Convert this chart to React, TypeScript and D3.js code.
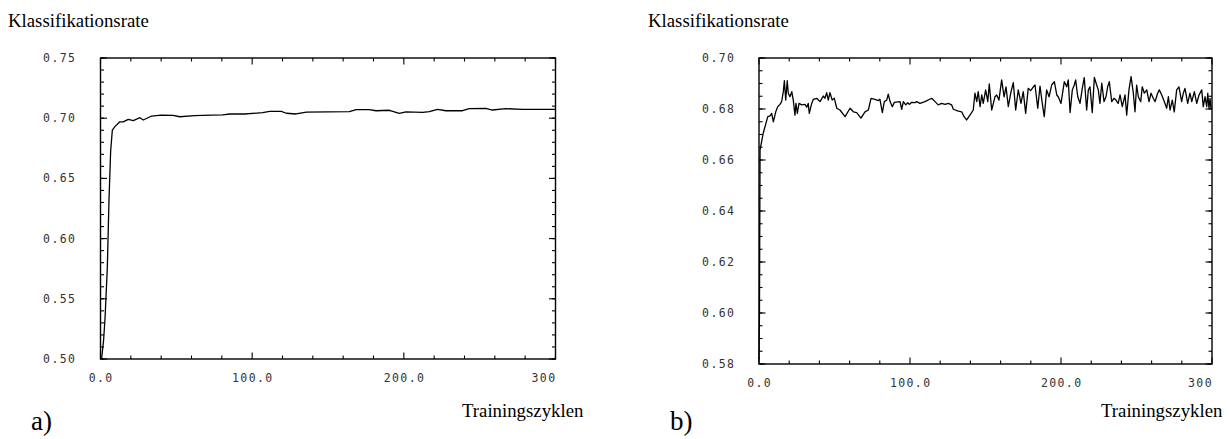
import React from "react";
import * as d3 from "d3";

// ---------- data ----------
const xTickValuesMajor = [0, 100, 200, 300];
const xTickLabels = ["0.0", "100.0", "200.0", "300"];
const xMinorStep = 20;

const yTicksA = [0.5, 0.55, 0.6, 0.65, 0.7, 0.75];
const yTickLabelsA = ["0.50", "0.55", "0.60", "0.65", "0.70", "0.75"];
const yTicksB = [0.58, 0.6, 0.62, 0.64, 0.66, 0.68, 0.7];
const yTickLabelsB = ["0.58", "0.60", "0.62", "0.64", "0.66", "0.68", "0.70"];

const yLabel = "Klassifikationsrate";
const xLabel = "Trainingszyklen";
const panelLabels = ["a)", "b)"];

const seriesA_x = [0, 0.8, 2, 3.0, 4.5, 5.6, 6.7, 7.8, 9.5, 12.8, 15, 18.3, 21.6, 26, 28.2, 33.7, 40, 47.9, 52.3, 62, 73, 80.6, 85.2, 95, 106.9, 111.5, 119.2, 122.5, 129, 135.7, 150, 164.1, 168.6, 177.3, 181.7, 190.5, 197, 201.4, 212.4, 216.8, 222.2, 227.8, 238.7, 243.1, 254.1, 258.4, 267.2, 278.2, 300];
const seriesA_y = [0.5, 0.501, 0.515, 0.534, 0.576, 0.632, 0.673, 0.69, 0.693, 0.697, 0.697, 0.699, 0.698, 0.7004, 0.6985, 0.7018, 0.7025, 0.7024, 0.7012, 0.7022, 0.7025, 0.7027, 0.7035, 0.7035, 0.7046, 0.7057, 0.7057, 0.7041, 0.7035, 0.7051, 0.7052, 0.7054, 0.7071, 0.7071, 0.7062, 0.7066, 0.7041, 0.7052, 0.7049, 0.7054, 0.7074, 0.7062, 0.7062, 0.7079, 0.7082, 0.7068, 0.7079, 0.7074, 0.7074];

const seriesB_x = [0, 0.3, 0.7, 2.8, 5.8, 7.3, 8.4, 9.5, 11.1, 12.4, 13.9, 15.0, 16.1, 16.8, 17.7, 18.7, 19.4, 20.5, 21.7, 22.7, 23.8, 24.5, 25.4, 26.5, 28.3, 30.5, 31.6, 32.6, 33.3, 34.9, 36.0, 38.2, 40.4, 42.6, 43.7, 44.8, 45.9, 47.0, 48.5, 49.9, 51.5, 53.6, 57.0, 60.3, 62.5, 64.7, 67.5, 70.2, 72.4, 74.2, 76.8, 79.0, 80.1, 81.7, 83.0, 84.6, 85.6, 86.8, 88.3, 89.6, 93.4, 94.5, 95.6, 97.2, 98.5, 99.5, 101.1, 103.3, 104.4, 106.6, 109.9, 114.4, 116.6, 118.7, 121.0, 123.2, 125.4, 127.6, 128.7, 132.0, 134.2, 135.8, 137.5, 139.7, 141.9, 143.0, 144.2, 145.2, 146.4, 147.5, 148.5, 150.1, 151.5, 152.5, 154.1, 155.2, 156.3, 157.4, 158.9, 160.7, 162.3, 163.6, 165.1, 166.9, 168.4, 170.0, 171.7, 173.5, 175.0, 176.6, 178.3, 179.9, 181.7, 182.8, 184.6, 186.1, 187.6, 188.9, 190.5, 192.1, 193.8, 195.6, 197.2, 198.2, 200.0, 202.2, 203.8, 204.8, 206.0, 207.5, 208.8, 209.7, 211.1, 212.6, 214.1, 215.4, 217.0, 218.1, 219.2, 220.7, 222.1, 223.6, 224.7, 225.8, 227.0, 228.5, 229.8, 230.9, 232.0, 233.6, 235.1, 236.4, 237.9, 239.1, 240.6, 242.4, 243.5, 245.0, 246.4, 247.9, 249.0, 250.1, 251.2, 252.8, 253.8, 255.2, 256.8, 258.3, 259.6, 261.1, 262.3, 264.0, 265.1, 266.7, 268.4, 270.0, 271.1, 272.2, 273.7, 275.0, 276.6, 278.1, 279.9, 281.0, 282.1, 283.9, 285.4, 286.6, 288.3, 289.9, 291.4, 293.2, 294.2, 295.4, 296.5, 297.2, 298.0, 298.7, 299.3, 300];
const seriesB_y = [0.582, 0.6, 0.664, 0.6705, 0.677, 0.6773, 0.6783, 0.675, 0.6789, 0.6809, 0.6818, 0.6829, 0.6868, 0.6911, 0.6835, 0.6911, 0.6862, 0.6848, 0.6868, 0.6835, 0.6776, 0.6822, 0.6783, 0.6822, 0.6816, 0.6818, 0.6807, 0.6822, 0.6783, 0.6822, 0.6838, 0.6842, 0.6829, 0.6851, 0.6842, 0.6864, 0.6835, 0.6864, 0.6835, 0.6842, 0.6803, 0.6796, 0.677, 0.6803, 0.6789, 0.6786, 0.6764, 0.6789, 0.6796, 0.6842, 0.6838, 0.6833, 0.6838, 0.6786, 0.6829, 0.6835, 0.6858, 0.6829, 0.6809, 0.6826, 0.6829, 0.6799, 0.6829, 0.6816, 0.6825, 0.6818, 0.6826, 0.6825, 0.6829, 0.6822, 0.6829, 0.6842, 0.6829, 0.6816, 0.6822, 0.6818, 0.6822, 0.6816, 0.6799, 0.6792, 0.6789, 0.677, 0.6757, 0.6776, 0.6796, 0.6862, 0.6829, 0.6868, 0.6809, 0.6855, 0.6822, 0.6875, 0.6829, 0.6898, 0.6796, 0.6822, 0.6848, 0.6855, 0.6835, 0.6914, 0.6848, 0.6887, 0.6809, 0.6868, 0.6903, 0.6796, 0.6875, 0.6822, 0.6868, 0.6783, 0.6881, 0.6872, 0.6887, 0.6894, 0.6803, 0.689, 0.6822, 0.677, 0.6875, 0.6848, 0.6894, 0.6907, 0.6855, 0.6848, 0.6822, 0.6907, 0.6887, 0.6914, 0.6786, 0.6875, 0.6894, 0.6914, 0.6848, 0.6822, 0.6881, 0.6923, 0.6796, 0.6875, 0.6887, 0.6786, 0.6924, 0.6894, 0.6875, 0.6822, 0.6901, 0.6829, 0.6848, 0.6887, 0.6907, 0.6829, 0.6842, 0.6835, 0.6822, 0.6855, 0.6809, 0.6855, 0.6776, 0.6875, 0.6927, 0.6862, 0.6789, 0.6894, 0.6848, 0.6829, 0.6887, 0.6862, 0.6875, 0.6829, 0.6862, 0.6842, 0.6829, 0.6862, 0.6875, 0.6855, 0.6829, 0.6803, 0.6848, 0.6796, 0.6835, 0.6789, 0.6875, 0.6887, 0.6829, 0.6862, 0.6881, 0.6822, 0.6862, 0.6829, 0.6868, 0.6822, 0.6855, 0.6875, 0.6809, 0.6848, 0.6809, 0.6862, 0.6803, 0.6842, 0.6803, 0.6803];

// ---------- component ----------
type PanelProps = {
  left: number; right: number; top: number; bottom: number;
  yDomain: [number, number];
  yTicks: number[]; yTickLabels: string[]; yMinorStep: number;
  xs: number[]; ys: number[];
  labelRight: number;
  titleX: number; xLabelX: number; panelX: number; panelLabel: string;
  xLabelBaseline: number;
};

const serif = "'Liberation Serif', 'Times New Roman', Times, 'DejaVu Serif', 'Noto Serif', serif";

const monoStyle: React.CSSProperties = {
  fontFamily: "'DejaVu Sans Mono', 'Liberation Mono', monospace",
  fontSize: 11.5,
  letterSpacing: 1.4,
  fill: "#333",
};

function Panel(p: PanelProps) {
  const x = d3.scaleLinear().domain([0, 300]).range([p.left, p.right]);
  const y = d3.scaleLinear().domain(p.yDomain).range([p.bottom, p.top]);
  const line = d3.line<number>().x((_, i) => x(p.xs[i])).y((d) => y(d));
  const xMinor = d3.range(0, 300 + 1e-6, xMinorStep).filter((v) => v % 100 !== 0);
  const nMinor = Math.round((p.yDomain[1] - p.yDomain[0]) / p.yMinorStep);
  const yMinor = d3.range(0, nMinor + 1).map((i) => p.yDomain[0] + i * p.yMinorStep);
  const minorLen = 3.5;
  const majorLen = 6.5;
  const ax = { stroke: "#000", strokeWidth: 1.1 };
  return (
    <g>
      <rect x={p.left} y={p.top} width={p.right - p.left} height={p.bottom - p.top} fill="none" stroke="#000" strokeWidth={1.4} />
      {xMinor.map((v) => (
        <g key={"xm" + v}>
          <line x1={x(v)} x2={x(v)} y1={p.bottom} y2={p.bottom - minorLen} {...ax} />
          <line x1={x(v)} x2={x(v)} y1={p.top} y2={p.top + minorLen} {...ax} />
        </g>
      ))}
      {xTickValuesMajor.map((v) => (
        <g key={"xM" + v}>
          <line x1={x(v)} x2={x(v)} y1={p.bottom} y2={p.bottom - majorLen} {...ax} />
          <line x1={x(v)} x2={x(v)} y1={p.top} y2={p.top + majorLen} {...ax} />
        </g>
      ))}
      {xTickValuesMajor.map((v, i) => (
        <text key={"xl" + v} x={x(v) + (i === 3 ? 1 : 0.7)} y={p.bottom + 23} textAnchor={i === 3 ? "end" : "middle"} style={monoStyle}>
          {xTickLabels[i]}
        </text>
      ))}
      {yMinor.map((v, i) => (
        <g key={"ym" + i}>
          <line x1={p.left} x2={p.left + minorLen} y1={y(v)} y2={y(v)} {...ax} />
          <line x1={p.right} x2={p.right - minorLen} y1={y(v)} y2={y(v)} {...ax} />
        </g>
      ))}
      {p.yTicks.map((v, i) => (
        <g key={"yM" + i}>
          <line x1={p.left} x2={p.left + majorLen} y1={y(v)} y2={y(v)} {...ax} />
          <line x1={p.right} x2={p.right - majorLen} y1={y(v)} y2={y(v)} {...ax} />
          <text x={p.labelRight + 1.4} y={y(v) + 4} textAnchor="end" style={monoStyle}>
            {p.yTickLabels[i]}
          </text>
        </g>
      ))}
      <path d={line(p.ys) || ""} fill="none" stroke="#000" strokeWidth={1.3} strokeLinejoin="round" />
      <text x={p.titleX} y={27} fontFamily={serif} fontSize={18.8} fill="#000">{yLabel}</text>
      <text x={p.xLabelX} y={p.xLabelBaseline} fontFamily={serif} fontSize={18.8} fill="#000">{xLabel}</text>
      <text x={p.panelX} y={430} fontFamily={serif} fontSize={27} fill="#000">{p.panelLabel}</text>
    </g>
  );
}

export default function App() {
  return (
    <svg width={1229} height={439} style={{ position: "absolute", left: 0, top: 0, background: "#fff" }}>
      <rect width={1229} height={439} fill="#fff" />
      <Panel
        left={100.5} right={555.5} top={58} bottom={359}
        yDomain={[0.5, 0.75]} yTicks={yTicksA} yTickLabels={yTickLabelsA} yMinorStep={0.01}
        xs={seriesA_x} ys={seriesA_y}
        labelRight={75} titleX={8} xLabelX={462} xLabelBaseline={417} panelX={31} panelLabel={panelLabels[0]}
      />
      <Panel
        left={759} right={1212} top={58} bottom={364}
        yDomain={[0.58, 0.7]} yTicks={yTicksB} yTickLabels={yTickLabelsB} yMinorStep={0.005}
        xs={seriesB_x} ys={seriesB_y}
        labelRight={734} titleX={648} xLabelX={1101} xLabelBaseline={417} panelX={670} panelLabel={panelLabels[1]}
      />
    </svg>
  );
}
